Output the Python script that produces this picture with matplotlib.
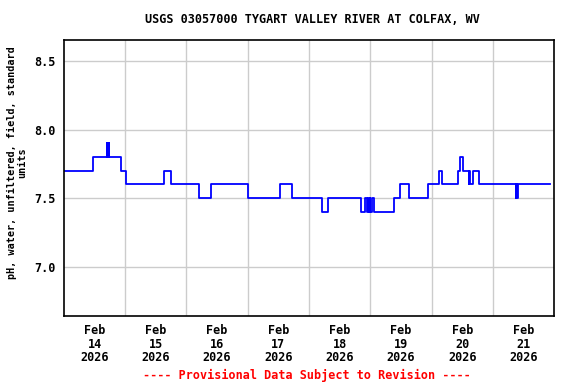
import matplotlib
matplotlib.use('Agg')  # no display
import matplotlib.pyplot as plt

# pH readings as a step series: hours after Feb 14 00:00 where the value changes
change_hours = [0.0, 11.5, 16.75, 17.0, 17.5, 17.75, 22.5, 24.5, 39.0, 42.0,
                53.0, 57.75, 72.0, 84.5, 89.5, 101.0, 103.5, 116.5, 117.75,
                118.75, 119.0, 119.5, 119.75, 120.0, 120.75, 121.5, 129.25,
                131.75, 135.25, 142.5, 147.0, 148.0, 154.5, 155.25, 156.25,
                158.5, 158.75, 159.0, 160.25, 162.75, 177.0, 177.25, 177.5,
                178.0, 190.5]
ph_values = [7.7, 7.8, 7.9, 7.8, 7.9, 7.8, 7.7, 7.6, 7.7, 7.6,
             7.5, 7.6, 7.5, 7.6, 7.5, 7.4, 7.5, 7.4, 7.5,
             7.4, 7.5, 7.4, 7.5, 7.4, 7.5, 7.4, 7.5,
             7.6, 7.5, 7.6, 7.7, 7.6, 7.7, 7.8, 7.7,
             7.6, 7.7, 7.6, 7.7, 7.6, 7.5, 7.6, 7.5,
             7.6, 7.6]

day_labels = ['Feb\n14\n2026', 'Feb\n15\n2026', 'Feb\n16\n2026', 'Feb\n17\n2026',
              'Feb\n18\n2026', 'Feb\n19\n2026', 'Feb\n20\n2026', 'Feb\n21\n2026']
y_ticks = [7.0, 7.5, 8.0, 8.5]

font = {'family': 'DejaVu Sans Mono', 'weight': 'bold', 'size': 8.5}

fig = plt.figure(figsize=(5.76, 3.84), dpi=100)
ax = fig.add_axes([0.111, 0.177, 0.851, 0.719])

ax.plot(change_hours, ph_values, drawstyle='steps-post', color='#0000ff', linewidth=1.3)

n_days = len(day_labels)
ax.set_xlim(0, 24 * n_days)
ax.set_ylim(6.64, 8.655)

# labels at noon, grid lines at midnight
ax.set_xticks([12 + 24 * i for i in range(n_days)])
ax.set_xticklabels(day_labels, fontdict=font, linespacing=1.05)
ax.set_xticks([24 * i for i in range(1, n_days)], minor=True)
ax.set_yticks(y_ticks)
ax.set_yticklabels(['%.1f' % v for v in y_ticks], fontdict=font)
ax.tick_params(axis='both', which='both', length=0, pad=6)
ax.grid(True, which='minor', axis='x', color='#cccccc', linewidth=1)
ax.grid(True, which='major', axis='y', color='#cccccc', linewidth=1)
ax.grid(False, which='major', axis='x')
ax.set_axisbelow(True)
for s in ax.spines.values():
    s.set_linewidth(1.2)

ax.set_ylabel('pH, water, unfiltered, field, standard\nunits',
              fontdict=dict(font, size=7.3), linespacing=1.0)
ax.yaxis.set_label_coords(-0.075, 0.554)
fig.text(0.542, 0.95, 'USGS 03057000 TYGART VALLEY RIVER AT COLFAX, WV',
         ha='center', va='center', **font)
fig.text(0.532, 0.023, '---- Provisional Data Subject to Revision ----',
         ha='center', va='center', color='#ff0000', **font)

fig.savefig('out.png', dpi=100)
